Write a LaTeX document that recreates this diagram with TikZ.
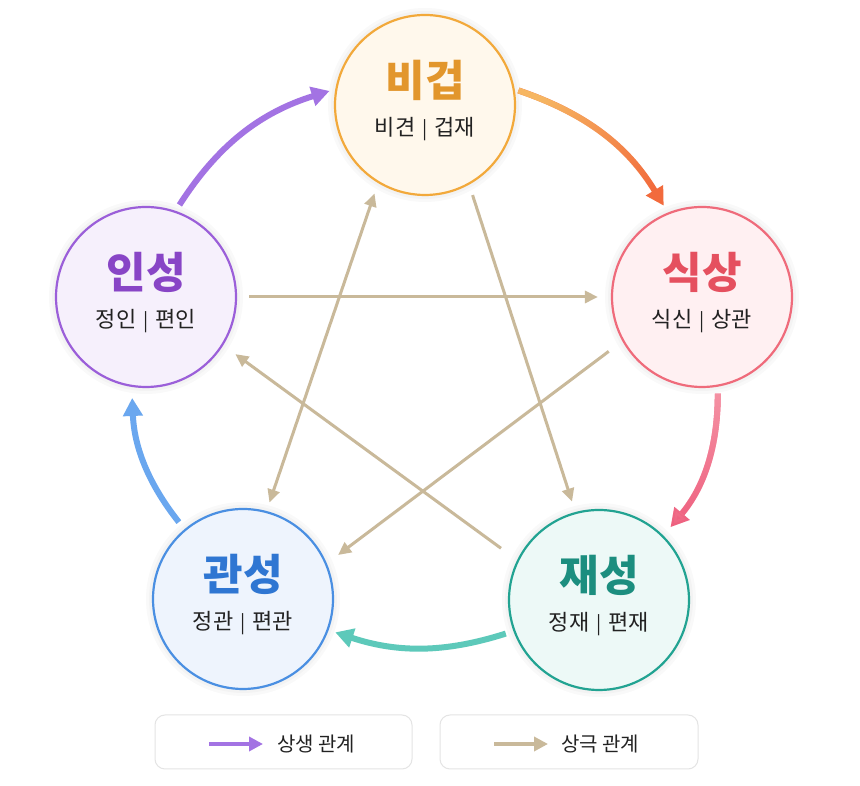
\documentclass[tikz,border=0pt]{standalone}
\usepackage{fontspec}
\newfontfamily\kr{Noto Sans CJK KR}
\usetikzlibrary{arrows.meta,calc,fadings}
\definecolor{bgB}{HTML}{F2A93B}\definecolor{bgT}{HTML}{E2962C}\definecolor{bgF}{HTML}{FFF8EC}
\definecolor{ssB}{HTML}{EF6B7B}\definecolor{ssT}{HTML}{E5505F}\definecolor{ssF}{HTML}{FFF0F2}
\definecolor{jsB}{HTML}{22A392}\definecolor{jsT}{HTML}{1C8E7F}\definecolor{jsF}{HTML}{EDF9F7}
\definecolor{gsB}{HTML}{4A8FE2}\definecolor{gsT}{HTML}{2F76D2}\definecolor{gsF}{HTML}{EEF4FD}
\definecolor{isB}{HTML}{9B5FD9}\definecolor{isT}{HTML}{8845C6}\definecolor{isF}{HTML}{F6F0FC}
\definecolor{genOa}{HTML}{F6B662}\definecolor{genOb}{HTML}{F26A3C}
\definecolor{genPa}{HTML}{F595A6}\definecolor{genPb}{HTML}{EE5C7C}
\definecolor{genT}{HTML}{5DC9BA}
\definecolor{genB}{HTML}{6AA7EF}\definecolor{genV}{HTML}{A373E3}\definecolor{tan}{HTML}{C9B99A}
\definecolor{txt}{HTML}{222222}\definecolor{boxB}{HTML}{E4E4E4}
\tikzfading[name=fadeLR, left color=transparent!0, right color=transparent!100]
\tikzset{
  elem/.style={circle, minimum size=180pt, inner sep=0pt, line width=2.2pt},
  ttl/.style={font=\kr\bfseries\fontsize{43}{45}\selectfont, inner sep=0pt},
  sub/.style={font=\kr\fontsize{22}{24}\selectfont, text=txt, inner sep=0pt},
  gen/.style={line width=6pt, -{Triangle[length=18pt,width=19pt]}},
  ctl/.style={line width=3pt, draw=tan, -{Triangle[length=13pt,width=12pt]}},
  ctlboth/.style={line width=3pt, draw=tan, {Triangle[length=13pt,width=12pt]}-{Triangle[length=13pt,width=12pt]}},
  legbox/.style={draw=boxB, line width=1pt, fill=white, rounded corners=10pt},
  legtxt/.style={font=\kr\fontsize{20}{22}\selectfont, text=txt, inner sep=0pt},
  glow/.style={fill=black, opacity=0.025}
}
\newcommand{\sepbar}{\hspace{7pt}{\fontsize{19}{20}\selectfont|}\hspace{7pt}}
\begin{document}
\begin{tikzpicture}[x=1pt,y=1pt]
\fill[white] (0,0) rectangle (860,786);
\useasboundingbox (0,0) rectangle (860,786);
% soft glow
\foreach \c in {(425,681),(702,489),(599,186),(243,187),(146,489)}{
  \fill[glow] \c circle (97pt);
  \fill[glow] \c circle (94pt);
}
% elements
\node[elem, draw=bgB, fill=bgF] (bg) at (425,681) {};
\node[elem, draw=ssB, fill=ssF] (ss) at (702,489) {};
\node[elem, draw=jsB, fill=jsF] (js) at (599,186) {};
\node[elem, draw=gsB, fill=gsF] (gs) at (243,187) {};
\node[elem, draw=isB, fill=isF] (is) at (146,489) {};
% texts
\node[ttl, text=bgT] (bgt) at ($(bg)+(0,25)$) {비겁};
\node[sub] (bgs) at ($(bg)+(0,-24)$) {비견\sepbar 겁재};
\node[ttl, text=ssT] (sst) at ($(ss)+(0,25)$) {식상};
\node[sub] (sss) at ($(ss)+(0,-24)$) {식신\sepbar 상관};
\node[ttl, text=jsT] (jst) at ($(js)+(0,25)$) {재성};
\node[sub] (jss) at ($(js)+(0,-24)$) {정재\sepbar 편재};
\node[ttl, text=gsT] (gst) at ($(gs)+(0,25)$) {관성};
\node[sub] (gss) at ($(gs)+(0,-24)$) {정관\sepbar 편관};
\node[ttl, text=isT] (ist) at ($(is)+(0,25)$) {인성};
\node[sub] (iss) at ($(is)+(0,-24)$) {정인\sepbar 편인};
% controlling (sanggeuk)
\draw[ctl, shorten <=12pt, shorten >=13pt] (is.0) -- (ss.180);
\draw[ctl, shorten <=11pt, shorten >=11pt] (bg.-61) -- (js.105);
\draw[ctlboth, shorten <=9pt, shorten >=11pt] (gs.75) -- (bg.239);
\draw[ctl, shorten <=20pt, shorten >=15pt] (js.154) -- (is.-32);
\draw[ctl, shorten <=17pt, shorten >=14pt] (ss.209) -- (gs.23);
% generating (sangsaeng)
\draw[gen, draw=genOb, shorten <=4pt, shorten >=8pt] (bg.10) to[bend left=20] (ss.112);
\draw[gen, draw=genOa, path fading=fadeLR, fading angle=-40, shorten <=4pt, shorten >=8pt] (bg.10) to[bend left=20] (ss.112);
\draw[gen, draw=genPb, shorten <=7pt, shorten >=11pt] (ss.-80) to[bend left=20] (js.45);
\draw[gen, draw=genPa, path fading=fadeLR, fading angle=-90, shorten <=7pt, shorten >=11pt] (ss.-80) to[bend left=20] (js.45);
\draw[gen, draw=genT, shorten <=8pt, shorten >=7pt] (js.200) to[bend left=18] (gs.-20);
\draw[gen, draw=genB, shorten <=9pt, shorten >=11pt] (gs.130) to[bend left=18] (is.261);
\draw[gen, draw=genV, shorten <=7pt, shorten >=6pt] (is.71) to[bend left=20] (bg.170);
% legend
\node[legbox, minimum width=257pt, minimum height=54pt] (lb1) at (283.5,44) {};
\node[legbox, minimum width=258pt, minimum height=54pt] (lb2) at (569,44) {};
\coordinate (l1a) at (209,42); \coordinate (l1b) at (263,42);
\coordinate (l2a) at (494,42); \coordinate (l2b) at (548,42);
\draw[line width=4pt, draw=genV, -{Triangle[length=14pt,width=14pt]}] (l1a) -- (l1b);
\draw[line width=4pt, draw=tan, -{Triangle[length=14pt,width=14pt]}] (l2a) -- (l2b);
\node[legtxt, anchor=west] (lt1) at (277,42) {상생 관계};
\node[legtxt, anchor=west] (lt2) at (561,42) {상극 관계};
\end{tikzpicture}
\end{document}
